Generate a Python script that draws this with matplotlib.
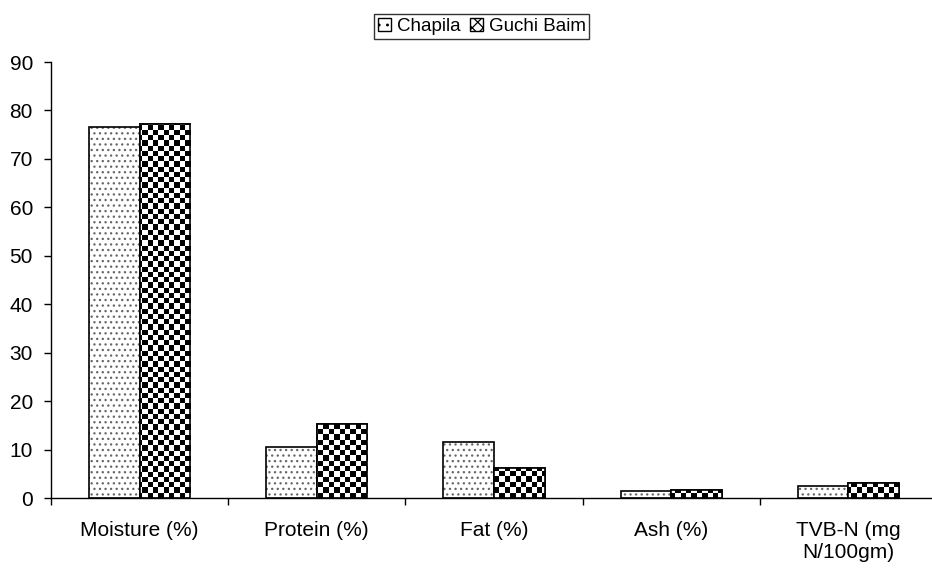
import numpy as np
import matplotlib
matplotlib.use("Agg")
import matplotlib.pyplot as plt
from matplotlib.patches import Patch

plt.rcParams['font.family'] = ['Liberation Sans', 'DejaVu Sans']

# Data
categories = ["Moisture (%)", "Protein (%)", "Fat (%)", "Ash (%)", "TVB-N (mg\nN/100gm)"]
chapila = [76.5, 10.5, 11.7, 1.5, 2.5]
guchi_baim = [77.3, 15.3, 6.2, 1.8, 3.2]
yticks = list(range(0, 100, 10))

fig = plt.figure(figsize=(9.32, 5.69), dpi=100)
ax = fig.add_axes([51 / 932, 70.7 / 569, 886 / 932, 436.3 / 569])

x = np.arange(len(categories))
w = 0.285

# Chapila: sparse grey dotted fill
plt.rcParams['hatch.linewidth'] = 0.9
b1 = ax.bar(x - w / 2, chapila, w, facecolor='white', edgecolor='#666666',
            hatch='...', linewidth=0)
ax.bar(x - w / 2, chapila, w, facecolor='none', edgecolor='black', linewidth=1.2)

# Guchi Baim: checkerboard fill, clipped to each bar
b2 = ax.bar(x + w / 2, guchi_baim, w, facecolor='white', edgecolor='black', linewidth=1.2)
nx, ny = 166, 83
checker = (np.add.outer(np.arange(ny), np.arange(nx)) % 2).astype(float)
for bar in b2:
    im = ax.imshow(checker, cmap='gray', extent=(-0.5, 4.5, 0, 90), origin='lower',
                   interpolation='nearest', aspect='auto', zorder=bar.get_zorder() + 0.1)
    im.set_clip_path(bar)
ax.bar(x + w / 2, guchi_baim, w, facecolor='none', edgecolor='black', linewidth=1.2, zorder=3)

ax.set_xlim(-0.5, 4.5)
ax.set_ylim(0, 90)
ax.set_yticks(yticks)
ax.set_yticklabels([str(t) for t in yticks], fontsize=15)
ax.tick_params(axis='y', length=5, width=1, pad=8, direction='out')

ax.set_xticks(np.arange(-0.5, 5.0, 1.0))
ax.set_xticklabels([])
ax.tick_params(axis='x', which='major', length=5, width=1, direction='out')
ax.set_xticks(x, minor=True)
ax.set_xticklabels(categories, minor=True, fontsize=15)
ax.tick_params(axis='x', which='minor', length=0, pad=16)

for s in ['top', 'right']:
    ax.spines[s].set_visible(False)
for s in ['left', 'bottom']:
    ax.spines[s].set_linewidth(1)

handles = [Patch(facecolor='white', edgecolor='black', hatch='..', linewidth=1),
           Patch(facecolor='white', edgecolor='black', hatch='XXX', linewidth=1)]
leg = fig.legend(handles, ['Chapila', 'Guchi Baim'], loc='upper center',
                 bbox_to_anchor=(0.517, 0.975), ncol=2, fontsize=13.5, frameon=True,
                 fancybox=False, edgecolor='black', handlelength=0.7, handleheight=0.7,
                 handletextpad=0.3, columnspacing=0.5, borderpad=0.2, borderaxespad=0)
leg.get_frame().set_linewidth(1)

fig.savefig("out.png", dpi=100)
